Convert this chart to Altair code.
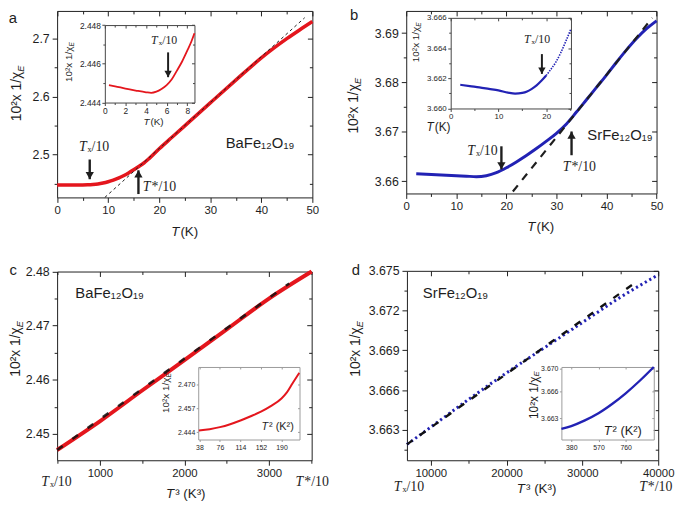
import altair as alt
import pandas as pd

W, H = 677, 498
SANS = "Liberation Sans"
SERIF = "Liberation Serif"
INK = "#1e1e1e"
RED = "#e4161d"
BLUE = "#2222b4"

# ---------------- data ----------------
# (a) BaFe12O19 : 10^2 / chi_E versus T (K)
a_T = [0, 2, 4, 6, 7, 8, 9, 10, 11, 12, 13, 14, 15, 16, 17, 18, 20, 22.5, 25, 27.5, 30, 35, 40, 42.5, 45, 47.5, 50]
a_y = [2.4475, 2.4475, 2.4475, 2.4478, 2.4483, 2.4492, 2.4508, 2.4530, 2.4558, 2.4593, 2.4635, 2.4683, 2.4737,
       2.4794, 2.4855, 2.4930, 2.5100, 2.5298, 2.5496, 2.5694, 2.5891, 2.6283, 2.6668, 2.6840, 2.7000, 2.7150, 2.7295]
a_fit_T = [9.35, 48.5]
a_fit_y = [2.4261, 2.7360]
# inset of (a)
ia_T = [0.4, 1, 2, 3, 4, 4.5, 5, 5.5, 6, 6.5, 7, 7.5, 8, 8.4, 8.7]
ia_y = [2.44490, 2.44484, 2.44472, 2.44462, 2.44453, 2.44450, 2.44456, 2.44470, 2.44490, 2.44520, 2.44565,
        2.44612, 2.44668, 2.44715, 2.44758]

# (b) SrFe12O19
b_T = [2, 4, 6, 8, 10, 12, 14, 16, 18, 20, 22, 24, 26, 28, 30, 32, 34, 36, 38, 40, 42, 44, 46, 48, 50]
b_y = [3.6615, 3.6614, 3.6613, 3.6612, 3.6611, 3.6610, 3.6609, 3.6611, 3.6617, 3.6627, 3.6639, 3.6652, 3.6666,
       3.6681, 3.6697, 3.6716, 3.6740, 3.6765, 3.6790, 3.6815, 3.6841, 3.6866, 3.6889, 3.6909, 3.6925]
b_fit_T = [21.3, 49.15]
b_fit_y = [3.6579, 3.6931]
# inset of (b): solid part and dotted tail
ib_T = [2, 4, 6, 8, 10, 12, 13.5, 15, 16, 17, 18, 19, 20]
ib_y = [3.66157, 3.66148, 3.66140, 3.66130, 3.66120, 3.66105, 3.66098, 3.66103, 3.66113, 3.66130, 3.66153,
        3.66183, 3.66218]
ib2_T = [20, 21, 22, 23, 24, 25.2]
ib2_y = [3.66218, 3.66260, 3.66305, 3.66365, 3.66436, 3.66528]

# (c) BaFe12O19 versus T^3
c_T3 = [495, 1000, 1500, 2000, 2500, 3000, 3505]
c_y = [2.4470, 2.4523, 2.4580, 2.4636, 2.4693, 2.4750, 2.4800]
c_fit_T3 = [495, 3240]
c_fit_y = [2.4470, 2.4778]
# inset of (c): versus T^2
ic_T2 = [37, 57, 76, 95, 114, 133, 152, 171, 190, 200, 210, 223]
ic_y = [2.4449, 2.4456, 2.4467, 2.4483, 2.4503, 2.4526, 2.4551, 2.4582, 2.4622, 2.4655, 2.4702, 2.4761]

# (d) SrFe12O19 versus T^3
d_T3 = [6859, 10000, 15000, 20000, 25000, 30000, 35000, 40000]
d_y = [3.6619, 3.6632, 3.6653, 3.6673, 3.6692, 3.6711, 3.6730, 3.6747]
d_fit_T3 = [6859, 36700]
d_fit_y = [3.6619, 3.6740]
# inset of (d): versus T^2
id_T2 = [311, 380, 475, 570, 665, 760, 860, 956]
id_y = [3.6615, 3.6619, 3.6627, 3.6637, 3.6650, 3.6665, 3.6683, 3.6702]

# tick values
a_xt, a_xm, a_yt, a_ym = [0, 10, 20, 30, 40, 50], [5, 15, 25, 35, 45], [2.5, 2.6, 2.7], [2.45, 2.55, 2.65]
b_xt, b_xm, b_yt, b_ym = [0, 10, 20, 30, 40, 50], [5, 15, 25, 35, 45], [3.66, 3.67, 3.68, 3.69], [3.665, 3.675, 3.685]
c_xt, c_xm, c_yt, c_ym = [1000, 2000, 3000], [500, 1500, 2500, 3500], [2.45, 2.46, 2.47, 2.48], [2.455, 2.465, 2.475]
d_xt, d_xm = [10000, 20000, 30000, 40000], [15000, 25000, 35000]
d_yt, d_ym = [3.663, 3.666, 3.669, 3.672, 3.675], [3.6615, 3.6645, 3.6675, 3.6705, 3.6735]
ia_xt, ia_xm, ia_yt, ia_ym = [0, 2, 4, 6, 8], [1, 3, 5, 7], [2.444, 2.446, 2.448], [2.445, 2.447]
ib_xt, ib_xm, ib_yt, ib_ym = [0, 10, 20], [5, 15, 25], [3.660, 3.662, 3.664, 3.666], [3.661, 3.663, 3.665]
ic_xt, ic_yt = [38, 76, 114, 152, 190], [2.444, 2.457, 2.470]
id_xt, id_yt = [380, 570, 760], [3.663, 3.6667, 3.670]

# ---------------- panel geometry: data domains and pixel ranges ----------------
PA = dict(xd=[0, 50], xr=[49.7, 308], yd=[2.4261, 2.7477], yr=[188.7, 0])
PB = dict(xd=[0, 50], xr=[403, 656.3], yd=[3.6575, 3.6945], yr=[184.7, 0])
PC = dict(xd=[495, 3505], xr=[49.7, 307.3], yd=[2.4451, 2.48], yr=[454.7, 263.7])
PD = dict(xd=[6859, 40000], xr=[403.7, 658], yd=[3.6607, 3.675], yr=[454.7, 263])
IA = dict(xd=[0, 8.7], xr=[98, 188.7], yd=[2.444, 2.448], yr=[92.7, 14.3])
IB = dict(xd=[0, 25.2], xr=[448, 569.7], yd=[3.660, 3.666], yr=[98.7, 7])
IC = dict(xd=[35.8, 223.4], xr=[192.5, 295], yd=[2.4400, 2.4793], yr=[433.7, 360.3])
ID = dict(xd=[311, 956], xr=[560, 653.5], yd=[3.660, 3.6702], yr=[433.7, 360.3])


def enc(p, xaxis=None, yaxis=None, yfield="y"):
    xs = alt.Scale(domain=p["xd"], range=p["xr"], nice=False, zero=False)
    ys = alt.Scale(domain=p["yd"], range=p["yr"], nice=False, zero=False)
    return dict(x=alt.X("x:Q", scale=xs, axis=xaxis, title=None),
                y=alt.Y(yfield + ":Q", scale=ys, axis=yaxis, title=None))


def axis(orient, pos, **kw):
    off = {"bottom": pos - H, "top": -pos, "left": -pos, "right": pos - W}[orient]
    base = dict(orient=orient, offset=off, grid=False, labelFlush=False, labelOverlap=False, labelBound=False,
                domainColor=INK, tickColor=INK, labelColor=INK, labelFont=SANS, domainWidth=1, tickWidth=1)
    base.update(kw)
    return alt.Axis(**base)


def ghost(p, xa, ya):
    df = pd.DataFrame({"x": p["xd"], "y": p["yd"]})
    return alt.Chart(df).mark_point(opacity=0).encode(**enc(p, xa, ya))


def frame(p, xt, yt, xfmt, yfmt, xls, yls, tick, xm=None, ym=None, mtick=3, padx=2, pady=3,
          col=INK, yexpr=None):
    x0, x1 = p["xr"]
    yb, ytop = p["yr"]
    st = dict(domainColor=col, tickColor=col)
    yk = dict(values=yt, format=yfmt, labelFontSize=yls, tickSize=tick, labelPadding=pady, **st)
    if yexpr:
        yk["labelExpr"] = yexpr
    out = [
        ghost(p, axis("bottom", yb, values=xt, format=xfmt, labelFontSize=xls, tickSize=tick,
                      labelPadding=padx, **st), axis("left", x0, **yk)),
        ghost(p, axis("bottom", ytop, values=xt, labels=False, tickSize=tick, **st),
              axis("left", x1, values=yt, labels=False, tickSize=tick, **st)),
    ]
    if xm:
        out.append(ghost(p, axis("bottom", yb, values=xm, labels=False, domain=False, tickSize=mtick, **st),
                         axis("left", x0, values=ym, labels=False, domain=False, tickSize=mtick, **st)))
        out.append(ghost(p, axis("bottom", ytop, values=xm, labels=False, domain=False, tickSize=mtick, **st),
                         axis("left", x1, values=ym, labels=False, domain=False, tickSize=mtick, **st)))
    return out


def line(p, xs, ys, **mk):
    df = pd.DataFrame({"x": xs, "y": ys})
    return alt.Chart(df).mark_line(**mk).encode(**enc(p))


def text(p, xs, ys, ts, size, font=SANS, style="normal", align="center", angle=0, dx=0, dy=0):
    df = pd.DataFrame({"x": xs, "y": ys, "t": ts})
    return alt.Chart(df).mark_text(font=font, fontSize=size, fontStyle=style, align=align, baseline="middle",
                                   angle=angle, dx=dx, dy=dy, color=INK).encode(text="t:N", **enc(p))


def split_label(p, xs, ys, tails, size, font, tstyle="italic"):
    """italic 'T' ending at the anchor, the rest starting there"""
    return [text(p, xs, ys, ["T"] * len(xs), size, font=font, style=tstyle, align="right", dx=-0.5),
            text(p, xs, ys, tails, size, font=font, align="left", dx=0.5)]


def ytitle(p, x, y, size):
    return [text(p, [x], [y], ["10²x 1/χ"], size, align="right", angle=270),
            text(p, [x], [y], ["E"], size * 0.66, style="italic", align="left", angle=270, dy=size * 0.28)]


def arrows(p, xs, tails, tips, up, width=2.4, head=70):
    df = pd.DataFrame({"x": xs, "y": tails, "y2": tips})
    r = head ** 0.5 / 2 * 0.866
    rule = alt.Chart(df).mark_rule(color=INK, strokeWidth=width).encode(
        y2=alt.Y2("y2:Q"), **enc(p))
    hd = alt.Chart(df).mark_point(shape="triangle-up" if up else "triangle-down", filled=True, size=head,
                                  color=INK, opacity=1, strokeWidth=0,
                                  yOffset=r if up else -r).encode(**enc(p, yfield="y2"))
    return [rule, hd]


layers = []

# ---------------- panel a ----------------
layers += frame(PA, a_xt, a_yt, "d", ".1f", 11.5, 12.5, 5, a_xm, a_ym)
layers.append(line(PA, a_T, a_y, color=RED, strokeWidth=3.6, interpolate="monotone"))
layers.append(line(PA, a_fit_T, a_fit_y, color=INK, strokeWidth=1, strokeDash=[3, 3]))
layers.append(text(PA, [-8.65, 39.74], [2.7358, 2.5193], ["a", "BaFe₁₂O₁₉"], 15))
layers += split_label(PA, [5.87, 18.39], [2.5125, 2.4443], ["ₓ/10", "*/10"], 14, SERIF)
layers += split_label(PA, [24.06], [2.3665], [" (K)"], 13.5, SANS)
layers += ytitle(PA, -7.9, 2.6429, 14)
layers += arrows(PA, [6.39], [2.4915], [2.4575], up=False)
layers += arrows(PA, [15.93], [2.4319], [2.4728], up=True)
# inset a
layers += frame(IA, ia_xt, ia_yt, "d", ".3f", 8.5, 8.5, 3, ia_xm, ia_ym, mtick=2, padx=1, pady=1.5, col="#444")
layers.append(line(IA, ia_T, ia_y, color=RED, strokeWidth=1.8, interpolate="monotone"))
layers += split_label(IA, [5.18], [2.44721], ["ₓ/10"], 12, SERIF)
layers += split_label(IA, [4.38], [2.44300], [" (K)"], 10, SANS)
layers += ytitle(IA, -3.45, 2.44689, 10)
layers += arrows(IA, [6.14], [2.44659], [2.44531], up=False, width=2, head=55)

# ---------------- panel b ----------------
layers += frame(PB, b_xt, b_yt, "d", ".2f", 11.5, 12.5, 5, b_xm, b_ym)
layers.append(line(PB, b_T, b_y, color=BLUE, strokeWidth=3, interpolate="monotone"))
layers.append(line(PB, b_fit_T, b_fit_y, color=INK, strokeWidth=2.2, strokeDash=[8, 7]))
layers.append(text(PB, [-10.4, 42.70], [3.6937, 3.66926], ["b", "SrFe₁₂O₁₉"], 15))
layers += split_label(PB, [13.82, 32.90], [3.66606, 3.66285], ["ₓ/10", "*/10"], 14, SERIF)
layers += split_label(PB, [25.92], [3.65069], [" (K)"], 13.5, SANS)
layers += ytitle(PB, -10.40, 3.67968, 14)
layers += arrows(PB, [19.01], [3.66706], [3.66239], up=False)
layers += arrows(PB, [33.02], [3.66525], [3.67006], up=True)
# inset b
layers += frame(IB, ib_xt, ib_yt, "d", ".3f", 8, 8, 3, ib_xm, ib_ym, mtick=2, padx=1, pady=1.5, col="#444")
layers.append(line(IB, ib_T, ib_y, color=BLUE, strokeWidth=2.2, interpolate="monotone"))
layers.append(line(IB, ib2_T, ib2_y, color=BLUE, strokeWidth=1.6, strokeDash=[1.5, 1.2], interpolate="monotone"))
layers += split_label(IB, [16.84], [3.66458], ["ₓ/10"], 12, SERIF)
layers += split_label(IB, [-3.46], [3.6588], [" (K)"], 12, SANS)
layers += ytitle(IB, -7.25, 3.66541, 10)
layers += arrows(IB, [19.11], [3.6636], [3.66229], up=False, width=2, head=55)

# ---------------- panel c ----------------
layers += frame(PC, c_xt, c_yt, "d", ".2f", 11.5, 12.5, 5, c_xm, c_ym)
layers.append(line(PC, c_T3, c_y, color=RED, strokeWidth=4, interpolate="monotone"))
layers.append(line(PC, c_fit_T3, c_fit_y, color="#111", strokeWidth=2.6, strokeDash=[7, 12], opacity=0.85))
layers.append(text(PC, [-23.8, 1115.5], [2.4803, 2.47611], ["c", "BaFe₁₂O₁₉"], 15))
layers += split_label(PC, [405, 3411.6], [2.44103, 2.44103], ["ₓ/10", "*/10"], 14, SERIF)
layers += split_label(PC, [1885.5], [2.43878], ["³ (K³)"], 13.5, SANS)
layers += ytitle(PC, 12, 2.46971, 14)
# inset c
layers += frame(IC, ic_xt, ic_yt, "d", ".3f", 7, 7, 2, padx=2, pady=1.5, col="#9a9a9a")
layers.append(line(IC, ic_T2, ic_y, color=RED, strokeWidth=2, interpolate="monotone"))
layers += split_label(IC, [166.1], [2.44668], ["² (K²)"], 11, SANS)
layers += ytitle(IC, -23.1, 2.47358, 10)

# ---------------- panel d ----------------
layers += frame(PD, d_xt, d_yt, "d", ".3f", 11.5, 12.5, 5, d_xm, d_ym)
layers.append(line(PD, d_T3, d_y, color=BLUE, strokeWidth=3, strokeDash=[2.2, 3], interpolate="monotone"))
layers.append(line(PD, d_fit_T3, d_fit_y, color="#111", strokeWidth=2.4, strokeDash=[7, 9]))
layers.append(text(PD, [121, 13258], [3.67507, 3.67336], ["d", "SrFe₁₂O₁₉"], 15))
layers += split_label(PD, [6207, 38567], [3.65870, 3.65870], ["ₓ/10", "*/10"], 14, SERIF)
layers += split_label(PD, [22498], [3.65854], ["³ (K³)"], 13.5, SANS)
layers += ytitle(PD, 121, 3.67075, 14)
# inset d
layers += frame(ID, id_xt, id_yt, "d", ".3f", 7, 7, 2, padx=2, pady=1.5, col="#9a9a9a",
                yexpr="datum.value > 3.665 && datum.value < 3.668 ? '3.666' : format(datum.value, '.3f')")
layers.append(line(ID, id_T2, id_y, color=BLUE, strokeWidth=2.4, interpolate="monotone"))
layers += split_label(ID, [664.9], [3.66117], ["² (K²)"], 13, SANS)
layers += ytitle(ID, 118, 3.66885, 12)

chart = (
    alt.layer(*layers)
    .resolve_scale(x="independent", y="independent")
    .properties(width=W, height=H, autosize=alt.AutoSizeParams(type="none"), padding=0, background="white")
    .configure_view(strokeOpacity=0)
    .configure_axis(grid=False)
)

chart.save("out.html", embed_options={"renderer": "svg", "actions": False})
